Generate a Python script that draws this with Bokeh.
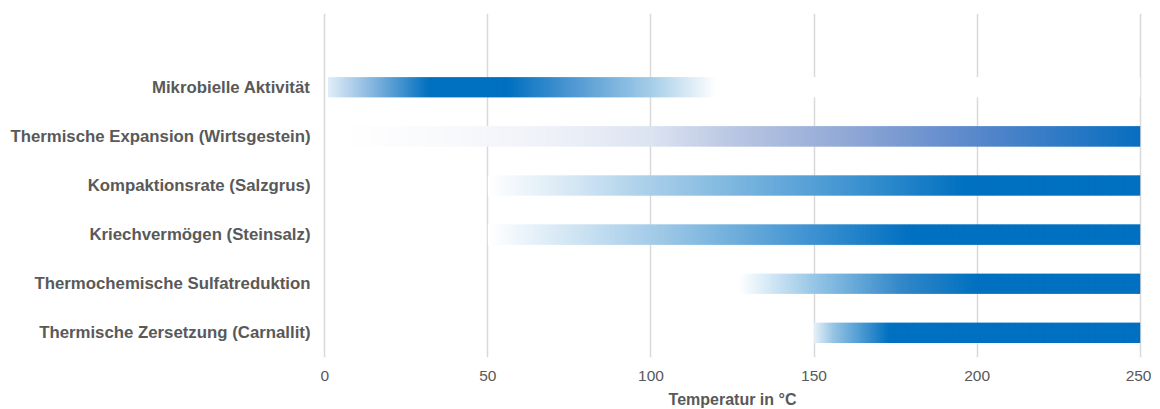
import numpy as np
from bokeh.plotting import figure
from bokeh.models import Range1d, FixedTicker, FactorRange, ColumnDataSource
from bokeh.embed import file_html
from bokeh.resources import INLINE

# ---- data ----
categories = [
    "Mikrobielle Aktivität",
    "Thermische Expansion (Wirtsgestein)",
    "Kompaktionsrate (Salzgrus)",
    "Kriechvermögen (Steinsalz)",
    "Thermochemische Sulfatreduktion",
    "Thermische Zersetzung (Carnallit)",
]
start_temp = [1, 5, 50, 50, 127, 150]
end_temp = [250, 250, 250, 250, 250, 250]
x_ticks = [0, 50, 100, 150, 200, 250]

# gradient stops per bar: temperatures and colours
grad_t = [
    [1, 15, 32, 56, 75, 100, 120],
    [5, 40, 70, 100, 125, 160, 200, 250],
    [50, 75, 100, 152, 197, 250],
    [50, 75, 100, 150, 180, 250],
    [127, 150, 177, 200, 250],
    [150, 156, 173, 250],
]
grad_c = [
    ["#e1eef8", "#82b4de", "#0070c0", "#0070c0", "#4b96d2", "#a5cde8", "#ffffff"],
    ["#ffffff", "#f8f9fc", "#eef1f8", "#dce3f1", "#bac7e3", "#91a8d6", "#5887cb", "#086ec0"],
    ["#ffffff", "#d7e8f5", "#a8cee9", "#509dd5", "#0070c0", "#0070c0"],
    ["#ffffff", "#d2e6f4", "#a5cce8", "#3c91d0", "#0070c0", "#0070c0"],
    ["#ffffff", "#96c6e6", "#3287c8", "#0070c0", "#0070c0"],
    ["#e6f0f8", "#96c3e4", "#0070c0", "#0070c0"],
]


def hex_rgb(h):
    h = h.lstrip("#")
    return [int(h[i:i + 2], 16) for i in (0, 2, 4)]


# build gradient slices
ys, lefts, rights, cols = [], [], [], []
step = 0.5
for cat, s, e, ts, cs in zip(categories, start_temp, end_temp, grad_t, grad_c):
    rgb = np.array([hex_rgb(c) for c in cs], dtype=float)
    xs = np.arange(s, e, step)
    for x0 in xs:
        mid = min(x0 + step / 2, e)
        r = np.interp(mid, ts, rgb[:, 0])
        g = np.interp(mid, ts, rgb[:, 1])
        b = np.interp(mid, ts, rgb[:, 2])
        ys.append(cat)
        lefts.append(x0)
        rights.append(min(x0 + step * 1.8, e))
        cols.append("#%02x%02x%02x" % (int(round(r)), int(round(g)), int(round(b))))

src = ColumnDataSource(dict(y=ys, left=lefts, right=rights, color=cols))

factors = list(reversed(categories)) + [" "]

p = figure(
    y_range=FactorRange(*factors, range_padding=0),
    x_range=Range1d(-1, 251),
    frame_width=822,
    frame_height=344,
    min_border_left=321,
    min_border_right=8,
    min_border_top=13,
    min_border_bottom=50,
    output_backend="svg",
    toolbar_location=None,
)
p.outline_line_color = None
p.background_fill_color = "white"
p.border_fill_color = "white"

p.hbar(y="y", left="left", right="right", height=0.41, fill_color="color",
       line_color=None, source=src)

# axes styling
p.xaxis.ticker = FixedTicker(ticks=x_ticks)
p.xgrid.ticker = FixedTicker(ticks=x_ticks)
p.xgrid.grid_line_color = "#d9d9d9"
p.xgrid.grid_line_width = 1.5
p.ygrid.grid_line_color = None

for ax in (p.xaxis, p.yaxis):
    ax.axis_line_color = None
    ax.major_tick_line_color = None
    ax.minor_tick_line_color = None
    ax.major_tick_out = 0
    ax.major_tick_in = 0

p.xaxis.major_label_text_font = "Liberation Sans"
p.xaxis.major_label_text_font_size = "15.5px"
p.xaxis.major_label_text_color = "#595959"
p.xaxis.major_label_standoff = 13
p.xaxis.axis_label = "Temperatur in °C"
p.xaxis.axis_label_text_font = "Liberation Sans"
p.xaxis.axis_label_text_font_size = "16px"
p.xaxis.axis_label_text_font_style = "bold"
p.xaxis.axis_label_text_color = "#595959"
p.xaxis.axis_label_standoff = 7

p.yaxis.major_label_text_font = "Liberation Sans"
p.yaxis.major_label_text_font_size = "16.8px"
p.yaxis.major_label_text_font_style = "bold"
p.yaxis.major_label_text_color = "#595959"
p.yaxis.major_label_standoff = 11

open("out.html", "w").write(file_html(p, INLINE))
